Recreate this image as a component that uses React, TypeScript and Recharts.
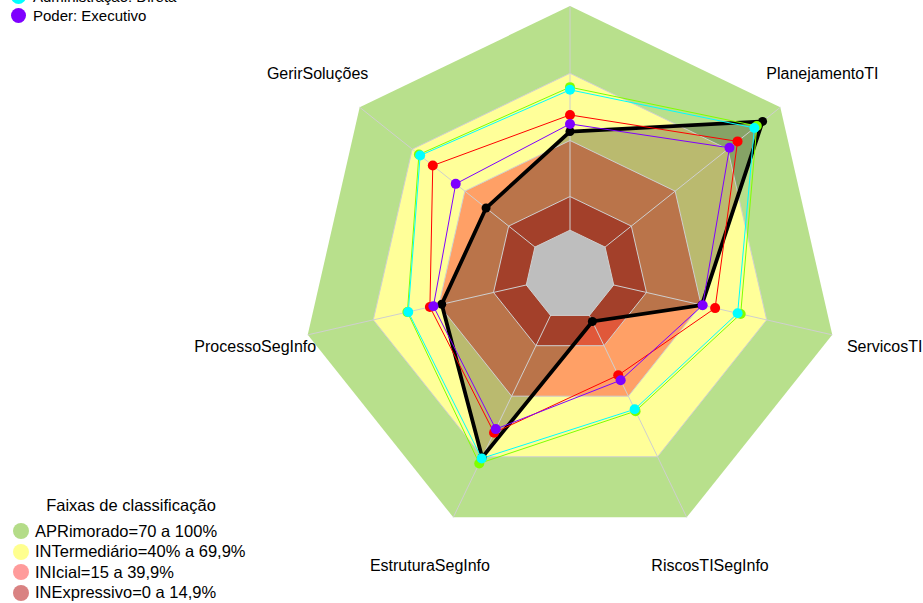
import {
  RadarChart,
  Radar,
  PolarGrid,
  PolarAngleAxis,
  PolarRadiusAxis,
} from "recharts";

// eixos no sentido horário a partir do topo
const eixos = [
  "",
  "PlanejamentoTI",
  "ServicosTI",
  "RiscosTISegInfo",
  "EstruturaSegInfo",
  "ProcessoSegInfo",
  "GerirSoluções",
];

const serieVerde = [63.8, 86.6, 58.1, 47.4, 73.3, 54.4, 66.2];
const serieVermelha = [51.4, 75.6, 46.4, 29.6, 58.1, 44.1, 58.3];
const serieCiano = [62.6, 85.2, 56.7, 46.5, 70.8, 54.0, 65.5];
const serieRoxa = [47.4, 71.0, 40.7, 32.1, 56.3, 42.5, 45.2];
const serieOrgao = [44.0, 89.9, 40.3, 3.0, 70.3, 38.7, 27.9];

// faixas de classificação (limite superior de cada uma)
const faixaLimites = [100, 70, 40, 15];
const faixaCores = ["#B8E08C", "#FFFF99", "#FFA066", "#E0583A"];
const faixaNomes = [
  "APRimorado=70 a 100%",
  "INTermediário=40% a 69,9%",
  "INIcial=15 a 39,9%",
  "INExpressivo=0 a 14,9%",
];
const faixaCoresLegenda = ["#B4DC88", "#FFFF8F", "#FF9B9B", "#D98282"];
const aneis = [0, 15, 40, 70];

const legendaSeries = [
  { nome: "Administração: Direta", cor: "#00FFFF" },
  { nome: "Poder: Executivo", cor: "#7F00FF" },
];

const dados = eixos.map((eixo, i) => {
  const linha: Record<string, number | string> = {
    eixo,
    verde: serieVerde[i],
    vermelha: serieVermelha[i],
    ciano: serieCiano[i],
    roxa: serieRoxa[i],
    orgao: serieOrgao[i],
    centro: 0,
  };
  faixaLimites.forEach((v, k) => (linha[`faixa${k}`] = v));
  aneis.forEach((v, k) => (linha[`anel${k}`] = v));
  return linha;
});

const RAIO = 269;
const FONTE = "'Liberation Sans', Arial, sans-serif";

function RotuloEixo(props: any) {
  const { x, y, payload } = props;
  if (!payload.value) return null;
  return (
    <text
      x={x}
      y={y}
      textAnchor="middle"
      dominantBaseline="central"
      fontSize={16}
      fontFamily={FONTE}
      fill="#000"
    >
      {payload.value}
    </text>
  );
}

const ponto = (cor: string, r: number) => (p: any) => (
  <circle
    key={`${cor}-${p.index}`}
    cx={p.cx}
    cy={p.cy}
    r={r}
    fill={cor}
    stroke="none"
  />
);

const linhas = [
  { chave: "verde", cor: "#7FFF00" },
  { chave: "vermelha", cor: "#FF0000" },
  { chave: "ciano", cor: "#00FFFF" },
  { chave: "roxa", cor: "#7F00FF" },
];

export default function App() {
  return (
    <div
      style={{
        position: "absolute",
        left: 0,
        top: 0,
        width: 923,
        height: 603,
        overflow: "hidden",
        background: "#fff",
        fontFamily: FONTE,
      }}
    >
      <RadarChart
        width={923}
        height={603}
        data={dados}
        cx={570}
        cy={275}
        outerRadius={RAIO}
        margin={{ top: 0, right: 0, bottom: 0, left: 0 }}
      >
        <PolarRadiusAxis
          domain={[-20, 100]}
          angle={90}
          tick={false}
          axisLine={false}
        />
        <PolarAngleAxis
          dataKey="eixo"
          tick={<RotuloEixo />}
          tickLine={false}
          axisLine={false}
          tickSize={RAIO * 0.2}
        />
        {faixaLimites.map((_, k) => (
          <Radar
            key={`faixa${k}`}
            dataKey={`faixa${k}`}
            fill={faixaCores[k]}
            fillOpacity={1}
            stroke="none"
            dot={false}
            isAnimationActive={false}
            zIndex={100}
          />
        ))}
        <Radar
          dataKey="orgao"
          fill="#000"
          fillOpacity={0.27}
          stroke="none"
          dot={false}
          isAnimationActive={false}
          zIndex={100}
        />
        <PolarGrid
          gridType="polygon"
          polarRadius={[0]}
          stroke="#CFCFCF"
          strokeWidth={1}
          zIndex={110}
        />
        <Radar
          dataKey="centro"
          fill="#BEBEBE"
          fillOpacity={1}
          stroke="none"
          dot={false}
          isAnimationActive={false}
          zIndex={120}
        />
        {aneis.map((_, k) => (
          <Radar
            key={`anel${k}`}
            dataKey={`anel${k}`}
            fill="none"
            fillOpacity={0}
            stroke="#CFCFCF"
            strokeWidth={1}
            dot={false}
            isAnimationActive={false}
            zIndex={130}
          />
        ))}
        <Radar
          dataKey="orgao"
          fill="none"
          fillOpacity={0}
          stroke="#000"
          strokeWidth={3.8}
          dot={ponto("#000", 4.5)}
          isAnimationActive={false}
          zIndex={140}
        />
        {linhas.map((l) => (
          <Radar
            key={l.chave}
            dataKey={l.chave}
            fill="none"
            fillOpacity={0}
            stroke={l.cor}
            strokeWidth={1}
            dot={ponto(l.cor, 5)}
            isAnimationActive={false}
            zIndex={140}
          />
        ))}
      </RadarChart>

      <div style={{ position: "absolute", left: 11, top: -13 }}>
        {legendaSeries.map((s) => (
          <div
            key={s.nome}
            style={{ display: "flex", alignItems: "center", height: 19 }}
          >
            <span
              style={{
                width: 15,
                height: 15,
                borderRadius: "50%",
                background: s.cor,
                marginRight: 7,
              }}
            />
            <span style={{ fontSize: 15, color: "#000" }}>{s.nome}</span>
          </div>
        ))}
      </div>

      <div
        style={{
          position: "absolute",
          left: 30,
          top: 495,
          width: 202,
          textAlign: "center",
          fontSize: 16.5,
          color: "#000",
          lineHeight: "20px",
        }}
      >
        Faixas de classificação
      </div>
      <div style={{ position: "absolute", left: 13, top: 521 }}>
        {faixaNomes.map((nome, k) => (
          <div
            key={nome}
            style={{ display: "flex", alignItems: "center", height: 20.5 }}
          >
            <span
              style={{
                width: 16,
                height: 16,
                borderRadius: "50%",
                background: faixaCoresLegenda[k],
                marginRight: 6,
              }}
            />
            <span style={{ fontSize: 16.5, color: "#000" }}>{nome}</span>
          </div>
        ))}
      </div>
    </div>
  );
}
